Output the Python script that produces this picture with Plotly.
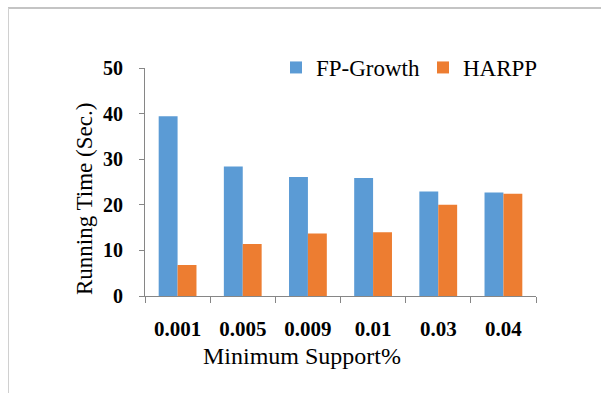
import plotly.graph_objects as go

# Minimum support thresholds (%) and measured running times (seconds)
support = ["0.001", "0.005", "0.009", "0.01", "0.03", "0.04"]
fp_growth = [39.4, 28.4, 26.1, 25.9, 22.9, 22.7]
harpp = [6.8, 11.4, 13.7, 14.0, 20.0, 22.4]

SERIF = "Times New Roman"
AXIS_GRAY = "#868686"

fig = go.Figure()
fig.add_trace(go.Bar(name="FP-Growth", x=support, y=fp_growth,
                     marker=dict(color="#5B9BD5", line=dict(width=0))))
fig.add_trace(go.Bar(name="HARPP", x=support, y=harpp,
                     marker=dict(color="#ED7D31", line=dict(width=0))))

W, H = 601, 393
L, R, T, B = 145, 65, 68, 97
pw, ph = W - L - R, H - T - B


def px_x(p):
    return (p - L) / pw


def px_y(p):
    return (H - B - p) / ph


fig.update_layout(
    width=W, height=H,
    margin=dict(l=L, r=R, t=T, b=B, pad=0),
    paper_bgcolor="white", plot_bgcolor="white",
    barmode="group", bargap=0.42, bargroupgap=0,
    showlegend=True,
    legend=dict(orientation="h", x=px_x(276), y=px_y(46), xanchor="left", yanchor="top",
                font=dict(family=SERIF, size=23, color="black"),
                bgcolor="rgba(0,0,0,0)", itemwidth=30, tracegroupgap=0,
                entrywidth=102, entrywidthmode="pixels"),
    xaxis=dict(type="category", showline=True, linecolor=AXIS_GRAY, linewidth=1,
               ticks="outside", tickson="boundaries", ticklen=6, tickcolor=AXIS_GRAY,
               tickfont=dict(family=SERIF, size=21, color="black", weight="bold"),
               showgrid=False, zeroline=False, ticklabelstandoff=14),
    yaxis=dict(range=[0, 50], tickvals=[0, 10, 20, 30, 40, 50], showline=True,
               linecolor=AXIS_GRAY, linewidth=1, ticks="outside", ticklen=5,
               tickcolor=AXIS_GRAY, tickfont=dict(family=SERIF, size=20, color="black", weight="bold"),
               showgrid=False, zeroline=False, ticklabelstandoff=12),
)

# Axis titles
fig.add_annotation(text="Running Time (Sec.)", xref="paper", yref="paper",
                   x=px_x(84), y=px_y(199), textangle=-90, showarrow=False,
                   font=dict(family=SERIF, size=23, color="black"),
                   xanchor="center", yanchor="middle")
fig.add_annotation(text="Minimum Support%", xref="paper", yref="paper",
                   x=px_x(302), y=px_y(356), showarrow=False,
                   font=dict(family=SERIF, size=24, color="black"),
                   xanchor="center", yanchor="middle")

# Frame around the chart (top and left edges)
fig.add_shape(type="line", xref="paper", yref="paper",
              x0=px_x(8), x1=px_x(601), y0=px_y(8), y1=px_y(8),
              line=dict(color="#c4c4c4", width=2))
fig.add_shape(type="line", xref="paper", yref="paper",
              x0=px_x(8.5), x1=px_x(8.5), y0=px_y(8), y1=px_y(393),
              line=dict(color="#d0d0d0", width=1))

fig.write_html("out.html")
